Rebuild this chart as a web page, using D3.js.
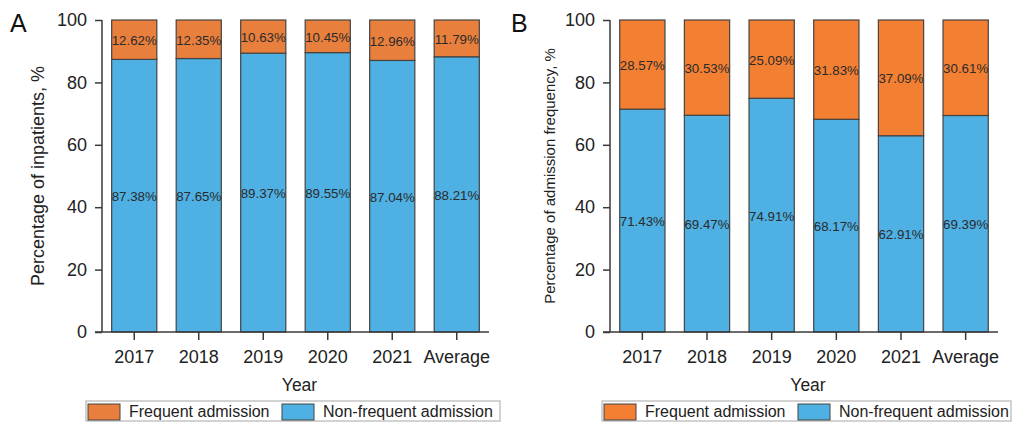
<!DOCTYPE html>
<html>
<head>
<meta charset="utf-8">
<script src="https://cdn.jsdelivr.net/npm/d3@7"></script>
<style>
  html, body { margin: 0; padding: 0; background: #fff; }
  svg { display: block; font-family: "Liberation Sans", Arial, Helvetica, sans-serif; }
</style>
</head>
<body>
<svg id="chart" width="1014" height="424"></svg>
<script>
// ---- data ----
const categories = ["2017", "2018", "2019", "2020", "2021", "Average"];
const seriesNames = ["Frequent admission", "Non-frequent admission"];
const inpatientsFrequent = [12.62, 12.35, 10.63, 10.45, 12.96, 11.79];
const inpatientsNonFrequent = [87.38, 87.65, 89.37, 89.55, 87.04, 88.21];
const admissionsFrequent = [28.57, 30.53, 25.09, 31.83, 37.09, 30.61];
const admissionsNonFrequent = [71.43, 69.47, 74.91, 68.17, 62.91, 69.39];
const yTicks = [0, 20, 40, 60, 80, 100];

const svg = d3.select("#chart");
const blue = "#4eb0e3";

const panels = [
  { letter: "A", lx: 10, x0: 102, x1: 489, title: "Percentage of inpatients, %", titleX: 38, titleSize: 18,
    freq: inpatientsFrequent, non: inpatientsNonFrequent, orange: "#e97f3c",
    legend: { x: 86, w: 414, sw2: 282 } },
  { letter: "B", lx: 511, x0: 610, x1: 998, title: "Percentage of admission frequency, %", titleX: 549, titleSize: 15,
    freq: admissionsFrequent, non: admissionsNonFrequent, orange: "#f37f32",
    legend: { x: 602, w: 409, sw2: 798 } }
];

const plotTop = 20, plotBottom = 332;

panels.forEach(p => {
  const g = svg.append("g");
  const x = d3.scaleBand().domain(categories).range([p.x0, p.x1]).paddingInner(0.3).paddingOuter(0.15);
  const y = d3.scaleLinear().domain([0, 100]).range([plotBottom, plotTop]);

  const rows = categories.map((c, i) => ({ cat: c, non: p.non[i], freq: p.freq[i] }));
  const stack = d3.stack().keys(["non", "freq"])(rows);

  // bars
  stack.forEach(layer => {
    const color = layer.key === "non" ? blue : p.orange;
    g.append("g").selectAll("rect").data(layer).join("rect")
      .attr("x", d => x(d.data.cat))
      .attr("width", x.bandwidth())
      .attr("y", d => y(d[1]))
      .attr("height", d => y(d[0]) - y(d[1]))
      .attr("fill", color)
      .attr("stroke", "#444")
      .attr("stroke-width", 1.2);
    g.append("g").selectAll("text").data(layer).join("text")
      .attr("x", d => x(d.data.cat) + x.bandwidth() / 2)
      .attr("y", d => (y(d[0]) + y(d[1])) / 2 + 1)
      .attr("text-anchor", "middle")
      .attr("dominant-baseline", "central")
      .attr("font-size", 13.3)
      .attr("fill", "#2b2b2b")
      .text(d => (d[1] - d[0]).toFixed(2) + "%");
  });

  // axes
  const yAxis = g.append("g").attr("transform", `translate(${p.x0},0)`)
    .call(d3.axisLeft(y).tickValues(yTicks).tickSize(7).tickPadding(8));
  const xAxis = g.append("g").attr("transform", `translate(0,${plotBottom})`)
    .call(d3.axisBottom(x).tickSize(8).tickPadding(10).tickSizeOuter(0));
  [yAxis, xAxis].forEach(a => {
    a.select(".domain").attr("stroke", "#3a3a3a").attr("stroke-width", 1.5);
    a.selectAll(".tick line").attr("stroke", "#3a3a3a").attr("stroke-width", 1.5);
    a.selectAll(".tick text").attr("font-size", 18).attr("fill", "#222")
      .attr("font-family", "'Liberation Sans', Arial, sans-serif");
  });
  yAxis.select(".domain").attr("d", `M0,${plotBottom}V${plotTop}`);
  xAxis.select(".domain").attr("d", `M${p.x0 - 7},0H${p.x1}`);

  // titles
  g.append("text")
    .attr("transform", `translate(${p.titleX},${(plotTop + plotBottom) / 2}) rotate(-90)`)
    .attr("text-anchor", "middle")
    .attr("dominant-baseline", "central")
    .attr("font-size", p.titleSize)
    .attr("fill", "#222")
    .text(p.title);
  g.append("text")
    .attr("x", (p.x0 + p.x1) / 2 + 4)
    .attr("y", 391)
    .attr("text-anchor", "middle")
    .attr("font-size", 17.5)
    .attr("fill", "#222")
    .text("Year");
  g.append("text")
    .attr("x", p.lx)
    .attr("y", 32)
    .attr("font-size", 25)
    .attr("fill", "#111")
    .text(p.letter);

  // legend
  const L = p.legend;
  const lg = g.append("g");
  lg.append("rect").attr("x", L.x).attr("y", 401).attr("width", L.w).attr("height", 20)
    .attr("fill", "#fff").attr("stroke", "#c4c4c4").attr("stroke-width", 1.5);
  const items = [
    { name: seriesNames[0], color: p.orange, sx: L.x + 2 },
    { name: seriesNames[1], color: blue, sx: L.sw2 }
  ];
  items.forEach(it => {
    lg.append("rect").attr("x", it.sx).attr("y", 404).attr("width", 32).attr("height", 16)
      .attr("fill", it.color).attr("stroke", "#444").attr("stroke-width", 1);
    lg.append("text").attr("x", it.sx + 41).attr("y", 417)
      .attr("font-size", 16).attr("fill", "#222").text(it.name);
  });
});
</script>
</body>
</html>
